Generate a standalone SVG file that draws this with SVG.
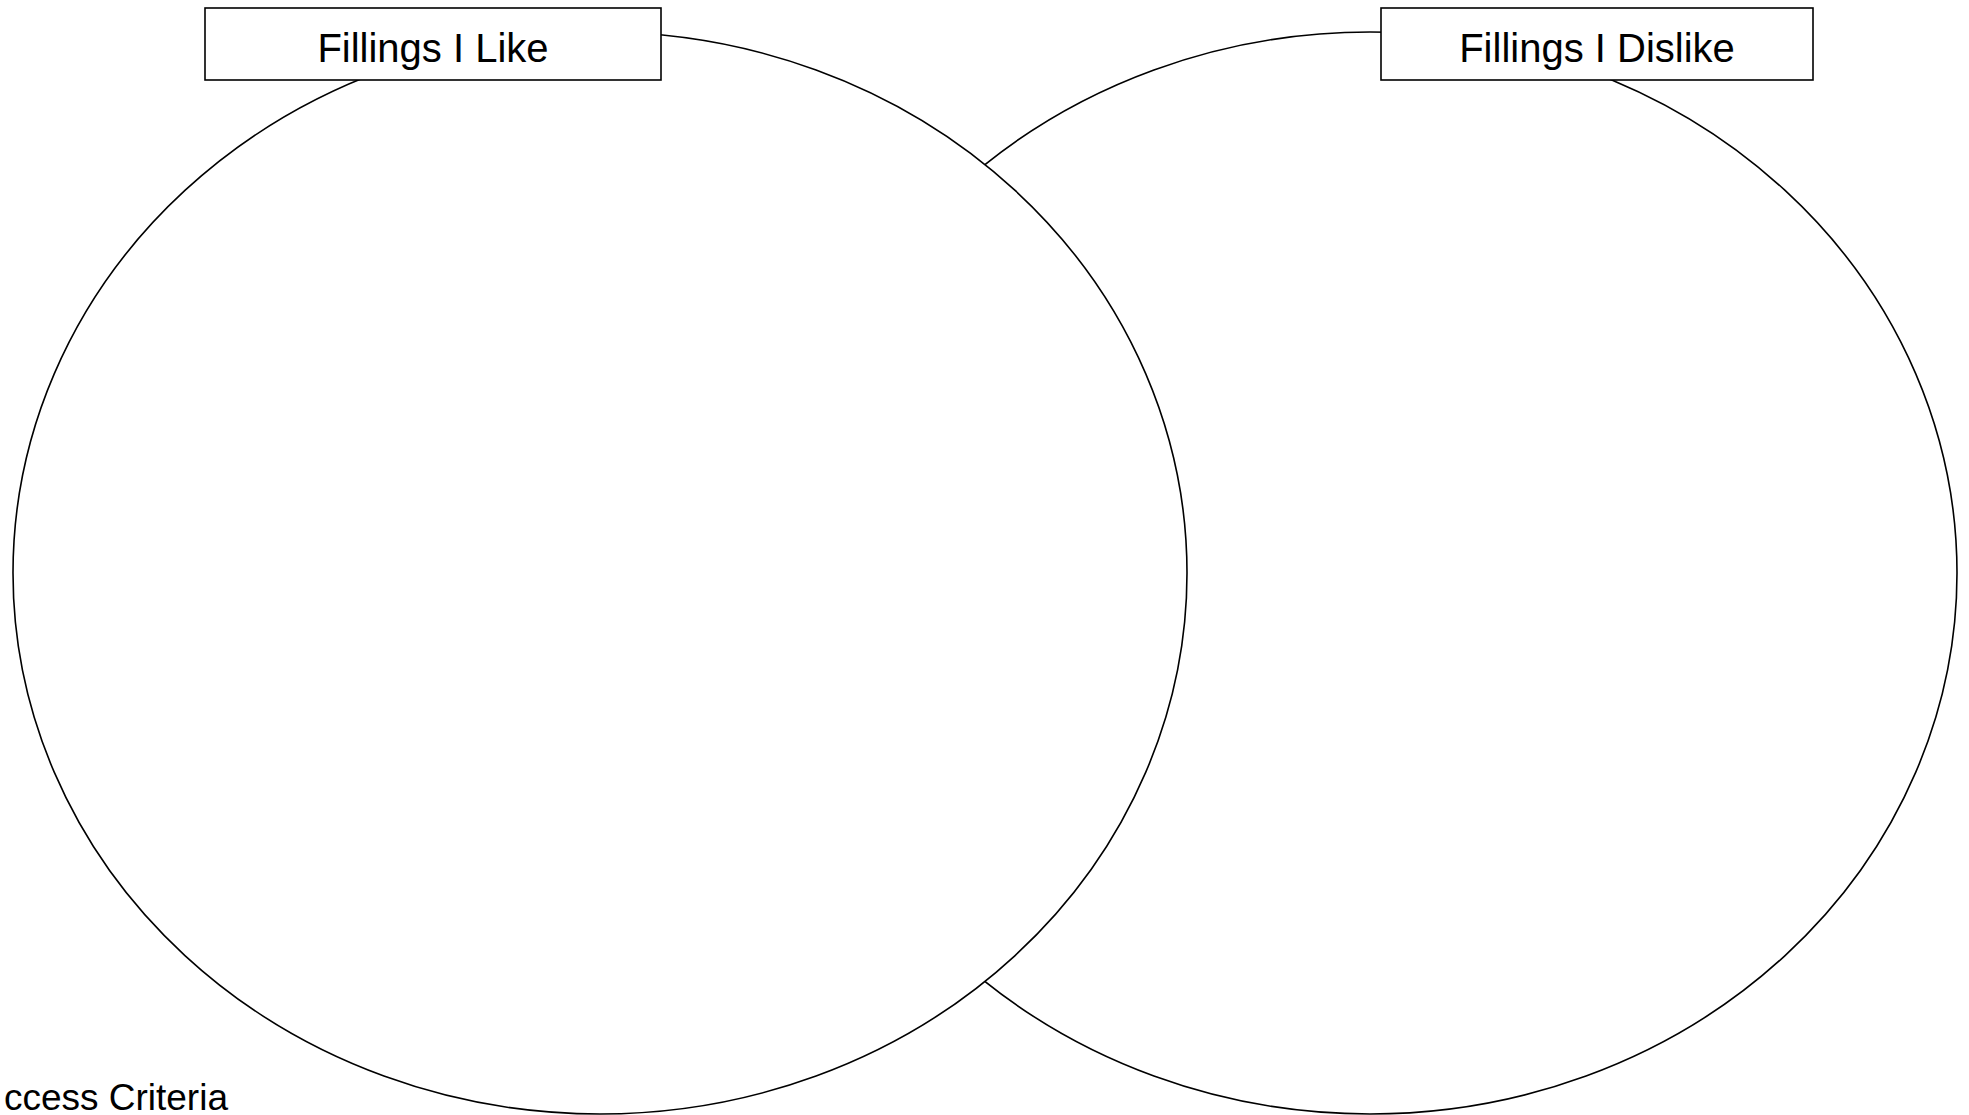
<svg xmlns="http://www.w3.org/2000/svg" width="1969" height="1115" viewBox="0 0 1969 1115">
<style>
.ring{fill:#fff;stroke:#000;stroke-width:1.6}
.box{fill:#fff;stroke:#000;stroke-width:1.6}
.lbl{font-family:"Liberation Sans",Arial,sans-serif;font-size:40px;fill:#000;text-anchor:middle}
.note{font-family:"Liberation Sans",Arial,sans-serif;font-size:37px;fill:#000;text-anchor:end}
</style>
<rect width="1969" height="1115" fill="#fff"/>
<g id="connectors"></g>
<g id="set-dislike">
<ellipse class="ring" cx="1370" cy="573" rx="587" ry="541"/>
</g>
<g id="set-like">
<ellipse class="ring" cx="600" cy="573" rx="587" ry="541"/>
</g>
<g id="label-like">
<rect class="box" x="205" y="8" width="456" height="72"/>
<text class="lbl" x="433" y="62">Fillings I Like</text>
</g>
<g id="label-dislike">
<rect class="box" x="1381" y="8" width="432" height="72"/>
<text class="lbl" x="1597" y="62">Fillings I Dislike</text>
</g>
<g id="success-criteria">
<text class="note" x="228" y="1110">ccess Criteria</text>
</g>
</svg>
